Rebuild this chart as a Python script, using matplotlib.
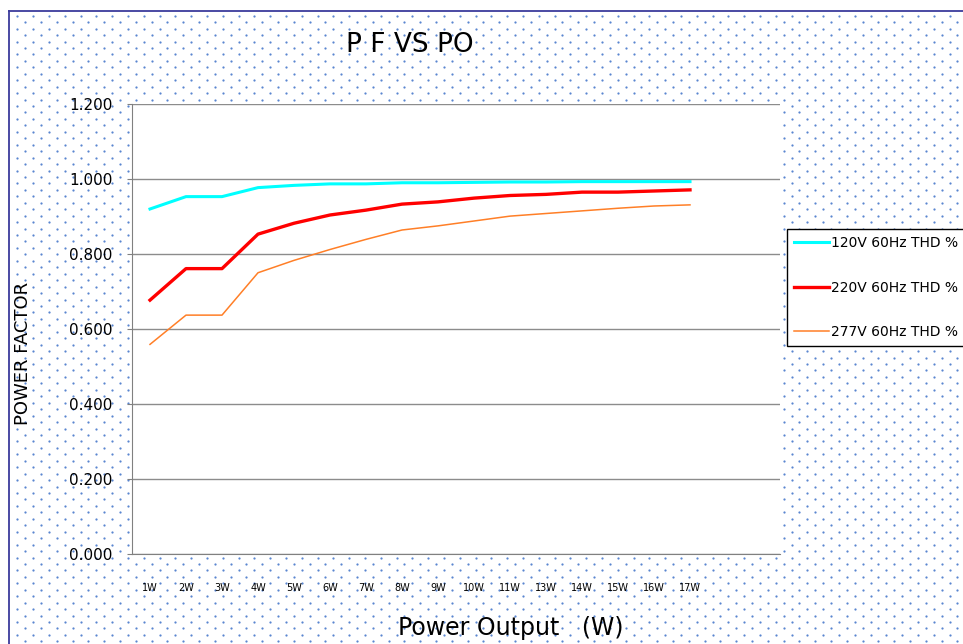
import numpy as np
import matplotlib
matplotlib.use('Agg')
import matplotlib.pyplot as plt
from matplotlib.ticker import FormatStrFormatter

# Datos
potencia = ['1W', '2W', '3W', '4W', '5W', '6W', '7W', '8W', '9W', '10W',
            '11W', '13W', '14W', '15W', '16W', '17W']
pf_120 = [0.920, 0.953, 0.953, 0.977, 0.983, 0.987, 0.987, 0.990, 0.990, 0.991,
          0.992, 0.992, 0.993, 0.993, 0.993, 0.993]
pf_220 = [0.677, 0.761, 0.761, 0.853, 0.882, 0.904, 0.917, 0.933, 0.939, 0.949,
          0.956, 0.959, 0.965, 0.965, 0.968, 0.971]
pf_277 = [0.559, 0.637, 0.637, 0.750, 0.783, 0.812, 0.839, 0.864, 0.875, 0.888,
          0.901, 0.908, 0.915, 0.922, 0.928, 0.931]
etiquetas = ['120V 60Hz THD %', '220V 60Hz THD %', '277V 60Hz THD %']

plt.rcParams['font.family'] = ['DejaVu Sans']

fig = plt.figure(figsize=(9.63, 6.44), dpi=100)

# Fondo punteado y borde
bg = fig.add_axes([0, 0, 1, 1])
bg.set_xlim(0, 963)
bg.set_ylim(644, 0)
bg.axis('off')
px, py = [], []
for i, fy in enumerate(np.arange(15.7, 650, 6.45)):
    x0 = 17.3 if i % 2 == 0 else 25.2
    cols = np.arange(x0, 970, 15.8)
    px.extend(cols)
    py.extend([fy] * len(cols))
bg.scatter(px, py, s=2.6, c='#5a86d0', linewidths=0)
bg.plot([8.5, 8.5], [644, 10.5], color='#3b3b9c', lw=1.3)
bg.plot([8.5, 963], [10.5, 10.5], color='#3b3b9c', lw=1.3)

# Grafica principal
ax = fig.add_axes([132/963, 90/644, 648/963, 450/644])
ax.set_facecolor('white')
x = np.arange(len(potencia))
ax.plot(x, pf_120, color='#00ffff', lw=2.2, label=etiquetas[0])
ax.plot(x, pf_220, color='#ff0000', lw=2.4, label=etiquetas[1])
ax.plot(x, pf_277, color='#ff7f27', lw=1.1, label=etiquetas[2])

ax.set_xlim(-0.5, 17.5)
ax.set_ylim(0, 1.2)
ax.set_yticks(np.arange(0, 1.21, 0.2))
ax.yaxis.set_major_formatter(FormatStrFormatter('%.3f'))
ax.set_xticks(x)
ax.set_xticklabels(potencia, fontsize=7)
ax.tick_params(axis='x', length=0, pad=21)
ax.tick_params(axis='y', length=3.6, color='#808080', pad=10.5, labelsize=11)
ax.grid(True, axis='y', color='#8c8c8c', lw=1)
ax.set_axisbelow(True)
for s in ['top', 'right']:
    ax.spines[s].set_visible(False)
for s in ['left', 'bottom']:
    ax.spines[s].set_color('#808080')

ax.set_xlabel('Power Output   (W)', fontsize=17, va='center')
ax.xaxis.set_label_coords((511 - 132) / 648, -(628 - 554) / 450)
ax.set_ylabel('POWER FACTOR', fontsize=13, va='center')
ax.yaxis.set_label_coords((23 - 132) / 648, (554 - 353) / 450)

fig.text(410/963, 1 - 45/644, 'P F VS PO', fontsize=19, ha='center', va='center')

leg = ax.legend(loc='upper left', bbox_to_anchor=(787/963, 1 - 229/644),
                bbox_transform=fig.transFigure, fancybox=False, edgecolor='black',
                framealpha=1, borderpad=0.5, labelspacing=2.2, handlelength=2.5,
                handletextpad=0.2, borderaxespad=0, fontsize=10)
leg.get_frame().set_linewidth(1.0)

fig.savefig('out.png', dpi=100)
